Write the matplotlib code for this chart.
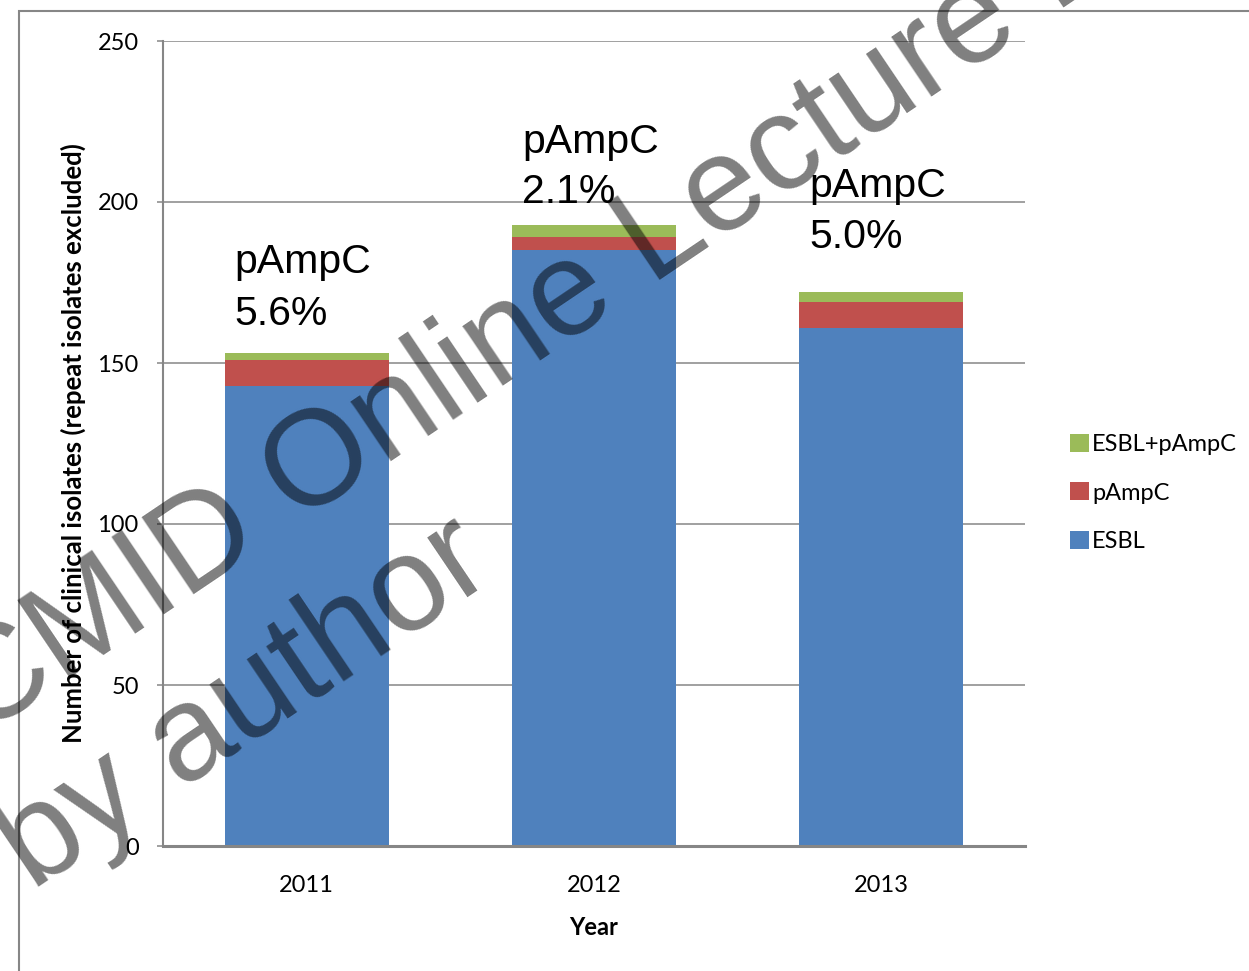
import matplotlib
matplotlib.use('Agg')
import matplotlib.pyplot as plt
from matplotlib.patches import Rectangle
import numpy as np

# data
years = ['2011', '2012', '2013']
esbl = [143, 185, 161]
pampc = [8, 4, 8]
esbl_pampc = [2, 4, 3]
pct_labels = ['5.6%', '2.1%', '5.0%']

BLUE, RED, GREEN = '#4F81BD', '#C0504D', '#9BBB59'
GRID = '#868686'
W, H = 1249, 971
TICK_FONT = 'Lato'
ARIAL = 'Liberation Sans'

fig = plt.figure(figsize=(W / 100, H / 100), dpi=100)
ax = fig.add_axes([163 / W, 1 - 846 / H, (1025 - 163) / W, (846 - 41) / H])

x = np.arange(len(years))
width = 0.57
b1 = ax.bar(x, esbl, width, color=BLUE, label='ESBL', zorder=2)
b2 = ax.bar(x, pampc, width, bottom=esbl, color=RED, label='pAmpC', zorder=2)
b3 = ax.bar(x, esbl_pampc, width, bottom=np.add(esbl, pampc), color=GREEN,
            label='ESBL+pAmpC', zorder=2)

ax.set_xlim(-0.5, len(years) - 0.5)
ax.set_ylim(0, 250)
ax.set_yticks(range(0, 251, 50))
ax.set_xticks(x)
ax.set_xticklabels(years)
ax.yaxis.grid(True, color=GRID, lw=1.1, zorder=1)
ax.set_axisbelow(True)

for s in ('top', 'right'):
    ax.spines[s].set_visible(False)
ax.spines['left'].set_color(GRID)
ax.spines['left'].set_linewidth(1.5)
ax.spines['bottom'].set_color(GRID)
ax.spines['bottom'].set_linewidth(2.2)
ax.spines['bottom'].set_zorder(3)

ax.tick_params(axis='y', length=4.5, width=1.1, color=GRID, pad=13,
               labelsize=17)
ax.tick_params(axis='x', length=0, pad=21, labelsize=17)
for lab in ax.get_xticklabels() + ax.get_yticklabels():
    lab.set_fontfamily(TICK_FONT)

ax.set_xlabel('Year', fontsize=17, fontweight='bold', family=TICK_FONT,
              labelpad=14)
ax.set_ylabel('Number of clinical isolates (repeat isolates excluded)',
              fontsize=18.5, fontweight='bold', family=TICK_FONT, labelpad=8)

# pAmpC share annotations (baseline of each line, data units)
label_y = [(178.0, 161.9), (215.3, 199.8), (201.6, 185.8)]
for i, (y1, y2) in enumerate(label_y):
    xl = x[i] - width / 2 + 0.035
    ax.text(xl, y1, 'pAmpC', fontsize=29.5, family=ARIAL, va='baseline', ha='left')
    ax.text(xl, y2, pct_labels[i], fontsize=29.5, family=ARIAL, va='baseline', ha='left')

leg = fig.legend(handles=[b3, b2, b1], loc='center left',
                 bbox_to_anchor=(1058 / W, 1 - 493 / H), frameon=False,
                 borderpad=0, handlelength=0.8, handleheight=0.8,
                 handletextpad=0.15, labelspacing=1.15,
                 prop={'family': TICK_FONT, 'size': 17})

# outer chart-area border (runs off the right and bottom of the picture)
fig.add_artist(Rectangle((19 / W, -0.2), 1.2, 1.2 - 11 / H,
                         transform=fig.transFigure, fill=False,
                         ec=GRID, lw=1.5))

# watermark
fig.text(-169 / W, 1 - 839 / H, 'ESCMID Online Lecture Library', fontsize=97,
         family=ARIAL, color='black', alpha=0.5, rotation=34,
         rotation_mode='anchor', ha='left', va='baseline', zorder=10)
fig.text(-82 / W, 1 - 968 / H, '\u00a9 by author', fontsize=97,
         family=ARIAL, color='black', alpha=0.5, rotation=34,
         rotation_mode='anchor', ha='left', va='baseline', zorder=10)

fig.savefig('out.png', dpi=100)
